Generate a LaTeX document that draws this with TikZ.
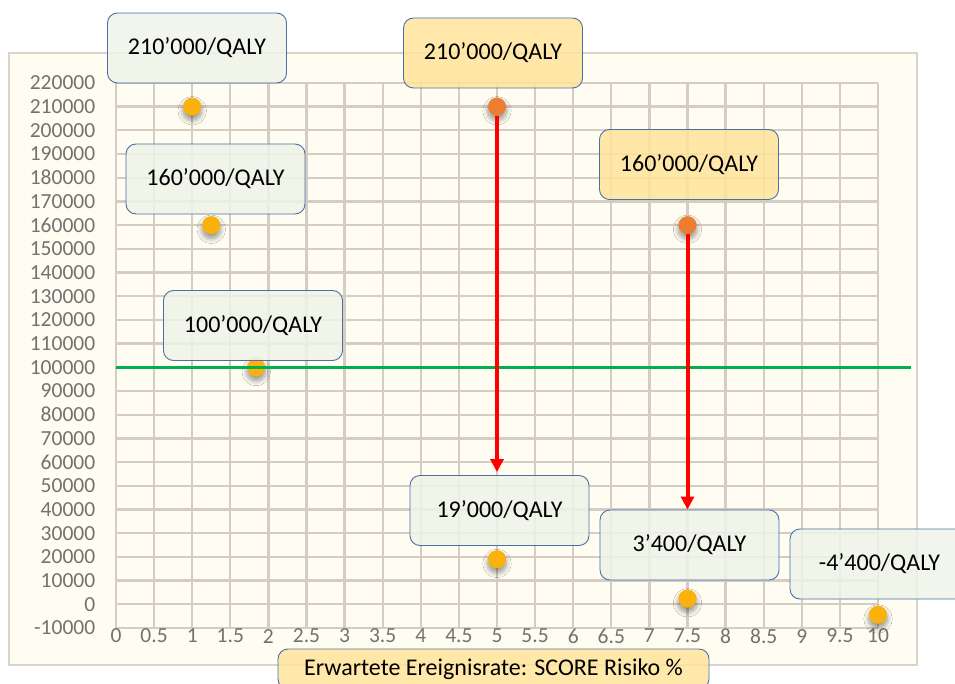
\documentclass[tikz,border=0pt]{standalone}
\usepackage{fontspec}
\setmainfont{Carlito}
\usetikzlibrary{arrows.meta,shadows.blur}

\definecolor{cream}{HTML}{FFFDF2}
\definecolor{framec}{HTML}{D9D4CA}
\definecolor{gridc}{HTML}{D5CDC4}
\definecolor{tickc}{HTML}{767171}
\definecolor{boxgreen}{HTML}{EEF3E8}
\definecolor{boxyellow}{HTML}{FFE49B}
\definecolor{boxedge}{HTML}{4C6FA8}
\definecolor{dotgold}{HTML}{FBB10B}
\definecolor{dotorange}{HTML}{ED7D31}
\definecolor{refgreen}{HTML}{00B050}

\tikzset{
  gridline/.style={draw=gridc, line width=2.3pt},
  ytick/.style={anchor=east, text=tickc, inner sep=0pt, font=\fontsize{21.5}{22}\selectfont},
  xtick/.style={anchor=center, text=tickc, inner sep=0pt, font=\fontsize{21.5}{22}\selectfont},
  dotbase/.style={circle, minimum size=18pt, inner sep=0pt,
    blur shadow={shadow xshift=0pt, shadow yshift=-4pt, shadow scale=1.05,
      shadow blur radius=4.5pt, shadow blur steps=8, shadow opacity=40}},
  golddot/.style={dotbase, fill=dotgold},
  orangedot/.style={dotbase, fill=dotorange},
  labelbox/.style={draw=boxedge, line width=0.9pt, rounded corners=10pt,
    fill opacity=0.85, text opacity=1, text=black, inner sep=0pt,
    minimum width=179pt, minimum height=70pt, font=\fontsize{24}{28}\selectfont},
  greenbox/.style={labelbox, fill=boxgreen},
  yellowbox/.style={labelbox, fill=boxyellow},
  drop/.style={draw=red, line width=4pt, -{Triangle[length=13pt,width=13pt]}},
  refline/.style={draw=refgreen, line width=2.6pt}
}

\begin{document}
\begin{tikzpicture}[x=1pt, y=-1pt]
\useasboundingbox (0,0) rectangle (955,684);
\clip (0,0) rectangle (955,684);

% chart area
\filldraw[fill=cream, draw=framec, line width=2.5pt] (9,53) rectangle (917,665);

% plot in data units: x = risk %, y = thousands per QALY
\begin{scope}[shift={(116,604.3)}, x=76.2pt, y=2.37pt]
  \foreach \i in {0,...,20}
    \draw[gridline] (\i*0.5,-10) -- (\i*0.5,220);
  \foreach \j in {-1,...,22}
    \draw[gridline] (0,\j*10) -- (10,\j*10);

  \foreach \j in {-1,...,22}
    \node[ytick] (yl\j) at (-0.27,\j*10) {\the\numexpr\j*10000\relax};
  \foreach[count=\k] \v in {0,0.5,1,1.5,2,2.5,3,3.5,4,4.5,5,5.5,6,6.5,7,7.5,8,8.5,9,9.5,10}
    \node[xtick] (xl\k) at (\v,-13.4) {\v};

  % data points
  \node[golddot] (p1) at (1,210) {};
  \node[golddot] (p2) at (1.25,160) {};
  \node[golddot] (p3) at (1.84,100) {};
  \node[orangedot] (p4) at (5,210) {};
  \node[orangedot] (p5) at (7.5,160) {};
  \node[golddot] (p6) at (5,19) {};
  \node[golddot] (p7) at (7.5,2.4) {};
  \node[golddot] (p8) at (10,-4.4) {};

  % threshold line
  \coordinate (g0) at (0,100);
  \coordinate (g1) at (10.43,100);
  \draw[refline] (g0) -- (g1);

  % arrow ends
  \coordinate (t1) at (5,55.8);
  \coordinate (t2) at (7.5,40.0);
  \draw[drop] (p4) -- (t1);
  \draw[drop] (p5) -- (t2);
\end{scope}

% value labels
\node[greenbox] (b1) at (197,48) {210’000/QALY};
\node[greenbox] (b2) at (215.5,179) {160’000/QALY};
\node[greenbox] (b3) at (253,325.5) {100’000/QALY};
\node[yellowbox] (b4) at (493,53) {210’000/QALY};
\node[yellowbox] (b5) at (689,164.5) {160’000/QALY};
\node[greenbox] (b6) at (499.5,510.5) {19’000/QALY};
\node[greenbox] (b7) at (689.5,545) {3’400/QALY};
\node[greenbox] (b8) at (879.5,564) {-4’400/QALY};

% axis title
\node[yellowbox, minimum width=431pt, minimum height=40pt] (xt) at (493.5,669)
  {Erwartete Ereignisrate: SCORE Risiko \%};
\end{tikzpicture}
\end{document}
